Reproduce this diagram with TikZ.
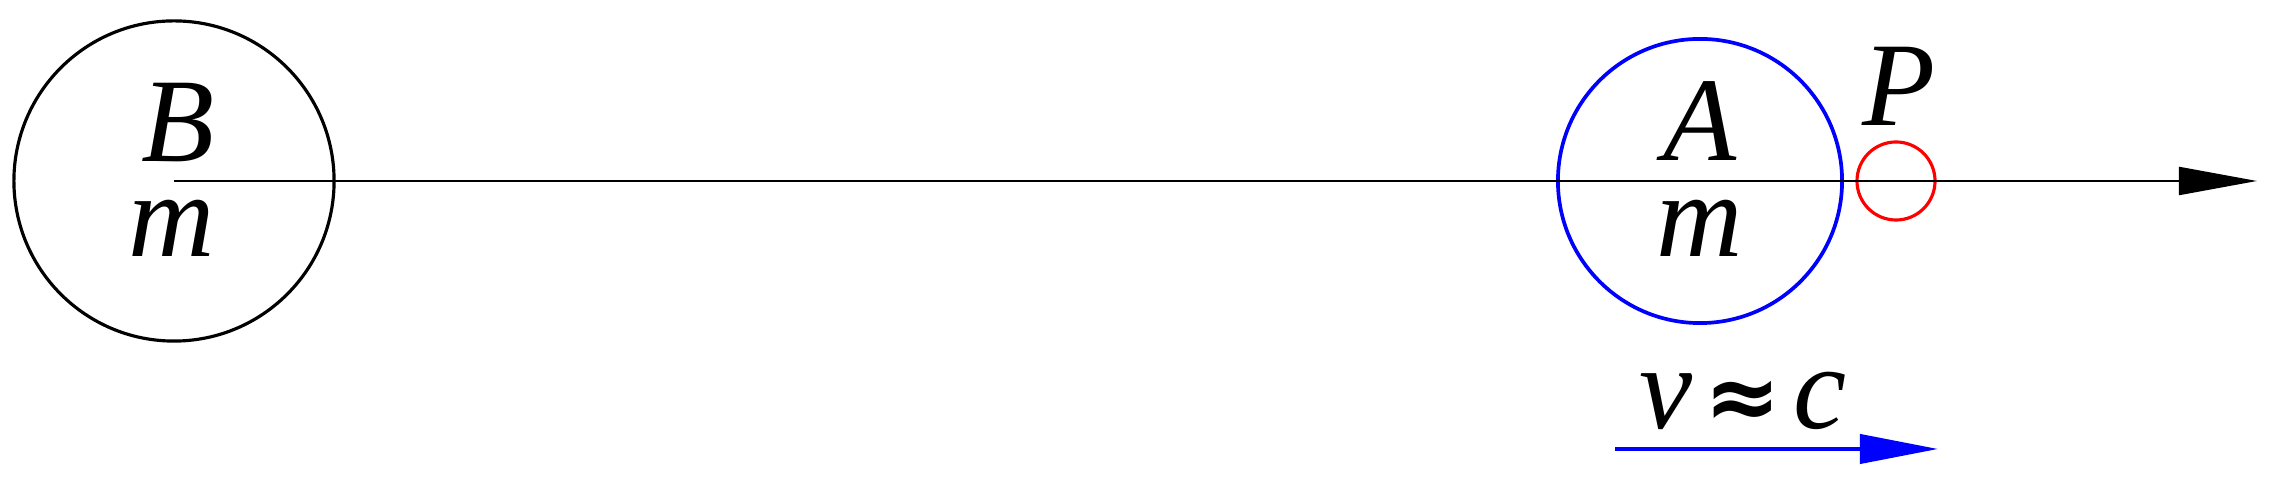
\documentclass[tikz,border=0pt]{standalone}
\usepackage{fontspec}
\setmainfont{Liberation Serif}
\newfontfamily\symfont{DejaVu Sans}
\usetikzlibrary{arrows.meta}
\begin{document}
\begin{tikzpicture}[x=0.01cm,y=-0.01cm,
  ball/.style={circle,draw,inner sep=0pt,line width=0.9pt},
  lbl/.style={anchor=base,inner sep=0pt,font=\fontsize{34pt}{40pt}\selectfont\itshape},
  axis/.style={line width=0.6pt,-{Triangle[length=0.78cm,width=0.28cm]}},
  vel/.style={blue,line width=1.15pt,-{Triangle[length=0.78cm,width=0.29cm]}}]
\useasboundingbox (0,0) rectangle (2272,486);
\node[ball,minimum size=3.20cm] (B) at (174,181) {};
\node[ball,blue,minimum size=2.84cm,line width=1.05pt] (A) at (1700,181) {};
\node[ball,red,minimum size=0.78cm] (Pc) at (1896,181) {};
\coordinate (tip) at (2257,181);
\draw[axis] (B.center) -- (tip);
\node[lbl] (Bl) at (178,162) {B};
\node[lbl] (Bm) at (172,257) {m};
\node[lbl] (Al) at (1700,161) {A};
\node[lbl] (Am) at (1700,257) {m};
\node[lbl] (Pl) at (1899,126) {P};
\node[lbl] (vc) at (1743,429) {v\hspace{0.12cm}{\symfont\bfseries\fontsize{26pt}{30pt}\selectfont ≈}\hspace{0.12cm}c};
\coordinate (vs) at (1615,449);
\coordinate (ve) at (1938,449);
\draw[vel] (vs) -- (ve);
\end{tikzpicture}
\end{document}
